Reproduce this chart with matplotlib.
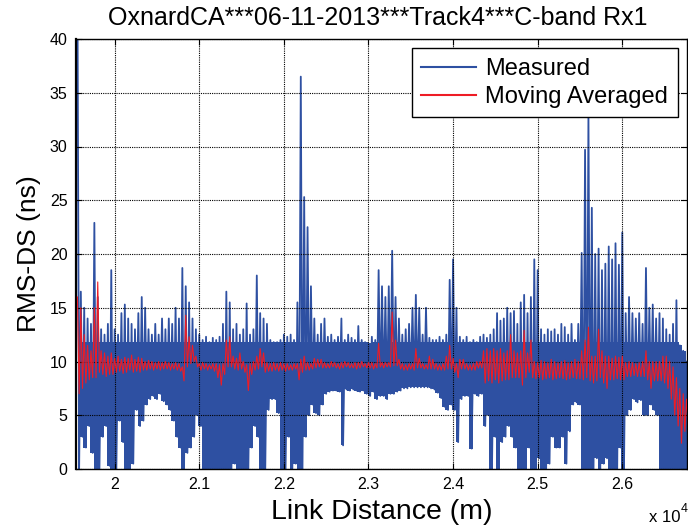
import numpy as np
import matplotlib
matplotlib.use("Agg")
import matplotlib.pyplot as plt

plt.rcParams['font.family'] = ['Liberation Sans', 'DejaVu Sans']

# ---- data; one value pair per 40 m bin ----
bin_start_m = 19560
bin_step_m = 40
dense_band_top = 11.8   # upper edge of the solid part of the measured trace

measured_hi = [45, 16.5, 15, 14, 13.5, 22.9, 16, 13, 12.5, 13.5,
               18.5, 13, 12.5, 14.5, 15.3, 14, 13.5, 13, 14.5, 16,
               15, 13, 12.5, 13.5, 12.5, 14, 13, 14, 13.5, 15,
               14, 18.7, 17, 15.5, 14, 13, 12.5, 12, 12.3, 11.8,
               12.2, 12, 12.3, 13.5, 16.5, 15.5, 13, 13.5, 12.5, 13,
               15.4, 12.5, 13, 18, 14.5, 14, 13.5, 12, 11.8, 11.8,
               12, 12.5, 12.3, 12.5, 12, 15.5, 36.5, 25.3, 22.5, 17,
               14, 12.5, 13.5, 14, 12.3, 12.5, 12, 12.3, 14, 12,
               12.5, 12.2, 12, 13.3, 12, 11.8, 11.7, 12.3, 12, 18.5,
               17, 16, 17, 20.3, 16, 14, 12.5, 13, 13.5, 15,
               16.2, 15, 12.5, 15, 12.2, 12, 12, 12.3, 12, 12.5,
               17.6, 19.5, 15, 12.3, 12, 12.3, 11.8, 12, 11.8, 12.3,
               12.5, 12.2, 12.5, 13, 14.5, 13.8, 14, 15, 14.5, 14.7,
               13.5, 15.5, 16.2, 14.5, 16, 19.5, 18.5, 13, 12.5, 13,
               12.8, 13, 12.5, 13.5, 13.2, 12.5, 13.5, 12, 13.5, 20.1,
               29.7, 33, 24.3, 20, 20.5, 18.5, 19.1, 20.7, 19.5, 21,
               19, 22, 14.5, 16, 14.5, 14, 14.5, 13.5, 18.7, 15,
               15.3, 14, 14.5, 14, 13, 12.5, 13.5, 15.7, 11.5, 11,
               10]
measured_lo = [0, 3, 2, 4, 1.5, 0, 0, 3, 4, 0.3,
               0, 0, 4.5, 2.5, 0, 0, 0.5, 5.5, 4, 4.5,
               6, 6.5, 6.8, 6.5, 7, 6.3, 6, 5.5, 4.5, 3,
               2, 0, 1.5, 2, 3, 5, 4, 0, 0, 0,
               0, 0, 0, 0, 0, 0, 0.5, 0, 0, 0,
               0, 2, 4, 3, 0, 0, 5.5, 6.5, 6.5, 5.2,
               0, 0, 3, 0, 0.5, 0, 0, 3, 5, 6,
               5.2, 5, 6, 7, 7.2, 7.3, 7.3, 7.2, 2.2, 7.4,
               7.3, 7.4, 7.3, 7.2, 7.3, 7.0, 6.8, 7.2, 6.5, 6.8,
               6.8, 6.5, 7, 7, 7.2, 7.3, 7.5, 7.5, 7.6, 7.6,
               7.6, 7.6, 7.6, 7.6, 7.5, 7.4, 7.1, 6.6, 5.8, 5.5,
               6, 5.5, 2.5, 6.5, 6.8, 6.8, 1.9, 7, 6.8, 7,
               4, 5, 0, 3, 0, 2.5, 3, 4, 3, 2,
               0, 0, 0, 2, 0, 0, 1, 0, 0, 0.5,
               3, 2, 2, 3, 0.5, 3.5, 6, 6.2, 6, 0,
               0, 0, 0, 1, 0, 0.5, 1, 0, 0, 0,
               2, 0, 5, 5.5, 6.5, 6.2, 6.4, 5, 5, 6,
               5.5, 5, 0, 0, 0, 0, 0, 0, 0, 0,
               0]

avg_hi = [16, 15, 12.5, 11.5, 11, 15, 17.4, 11, 10.8, 10.5,
          10.8, 10.3, 10.5, 10.2, 10.4, 10.3, 10.6, 10.2, 10.4, 10.3,
          10.0, 10.1, 10.0, 9.9, 10.0, 9.9, 10.0, 9.9, 9.8, 9.9,
          9.8, 9.5, 14.3, 12.3, 11.5, 10.5, 9.8, 9.9, 9.8, 9.7,
          9.8, 9.8, 9.7, 9.8, 12, 12.3, 10.5, 10.3, 10.8, 10,
          9.7, 9.8, 10, 10.5, 11.2, 10.8, 9.9, 9.8, 9.9, 9.8,
          9.9, 9.8, 9.8, 9.7, 9.8, 9.8, 10.2, 10.5, 9.9, 9.8,
          10.3, 10.2, 10.2, 9.9, 9.8, 10.0, 9.9, 9.8, 9.9, 10.0,
          9.9, 9.8, 9.9, 9.9, 10.0, 9.8, 9.9, 9.9, 9.8, 11.7,
          9.9, 9.9, 9.9, 14.6, 12, 10.2, 9.8, 9.7, 9.8, 9.8,
          11.2, 10.3, 9.8, 9.7, 10.5, 10.2, 9.8, 9.7, 9.8, 10.5,
          11.5, 10.3, 9.8, 10.2, 10.2, 9.8, 9.7, 9.8, 10, 10,
          11, 11.2, 11, 11.2, 11, 11.2, 10.8, 11, 12.5, 11,
          10.8, 11, 12.9, 10.8, 12, 10, 9.9, 10.1, 10, 9.9,
          10.2, 10, 9.9, 10, 10.1, 9.9, 10, 10.2, 10, 11,
          12, 13.2, 10.5, 10.5, 13, 11, 10.5, 10.5, 10.3, 10.5,
          10.4, 10.5, 9.9, 10, 9.9, 9.8, 9.9, 10, 11, 10,
          10, 10, 10, 10.5, 10.5, 10, 9.5, 8.5, 7.5, 7,
          6.5]
avg_lo = [7, 7.5, 8, 8.3, 8.5, 8.5, 9, 8.8, 8.6, 8.8,
          8.8, 9.0, 9.1, 8.9, 9.0, 9.2, 9.0, 9.1, 9.0, 9.2,
          9.2, 9.3, 9.2, 9.3, 9.2, 9.3, 9.3, 9.2, 9.3, 9.2,
          9.1, 8.2, 9.5, 9.8, 10, 9.5, 9.2, 9.3, 9.2, 9.3,
          9.1, 8.5, 7.8, 8.8, 9.5, 9.5, 9.3, 9.2, 9.3, 9.0,
          7.3, 8.8, 9.2, 9.3, 9.5, 9.0, 9.1, 9.1, 9.2, 9.1,
          9.2, 9.1, 9.2, 9.2, 9.3, 8.3, 9.0, 9.2, 9.2, 9.3,
          9.4, 9.5, 9.4, 9.4, 9.4, 9.5, 9.4, 9.3, 9.4, 9.5,
          9.4, 9.4, 9.3, 9.4, 9.5, 9.4, 9.4, 9.3, 9.4, 9.5,
          9.4, 9.5, 9.5, 9.6, 9.6, 9.3, 9.2, 9.2, 9.3, 9.2,
          9.4, 9.4, 9.3, 9.3, 9.3, 9.3, 9.2, 9.2, 9.2, 9.3,
          9.3, 9.0, 8.5, 9.3, 9.3, 9.2, 9.2, 9.2, 9.4, 9.4,
          8, 8.2, 8, 8.3, 8, 8.2, 8.3, 8.3, 8.5, 8.5,
          8.5, 7.8, 8.5, 9, 8.5, 8.4, 8.5, 8.3, 8.4, 8.5,
          8.3, 8.4, 8.5, 8.4, 8.3, 8.4, 8.5, 8.4, 8.4, 8.3,
          8.5, 8.2, 8, 8.2, 8.5, 8, 7.5, 8.3, 8.3, 8.4,
          8.3, 8.3, 8.6, 8.6, 8.7, 8.6, 8.6, 8.6, 8.3, 7.5,
          8.2, 8.2, 8.2, 8, 7.5, 6.5, 5, 4, 2.4, 3.5,
          4]

title_text = "OxnardCA***06-11-2013***Track4***C-band Rx1"
x_label = "Link Distance (m)"
y_label = "RMS-DS (ns)"
legend_labels = ["Measured", "Moving Averaged"]
x_ticks = [20000, 21000, 22000, 23000, 24000, 25000, 26000]
x_tick_labels = ["2", "2.1", "2.2", "2.3", "2.4", "2.5", "2.6"]
y_ticks = [0, 5, 10, 15, 20, 25, 30, 35, 40]

# ---- build zig-zag series (peak then trough inside each bin) ----
n = len(measured_hi)
bin_x = bin_start_m + bin_step_m * np.arange(n)
xs = np.column_stack([bin_x, bin_x + bin_step_m / 2]).ravel()
meas = np.column_stack([measured_hi, measured_lo]).ravel()
avg = np.column_stack([avg_hi, avg_lo]).ravel()
core_top = np.minimum(measured_hi, dense_band_top)

W, H = 688, 531
fig = plt.figure(figsize=(W / 100, H / 100), dpi=100)
ax = fig.add_axes([76 / W, (H - 469) / H, (687 - 76) / W, (469 - 39) / H])

blue = '#2E50A2'
red = '#EE1C25'
# solid (dense) part of the measured trace; spikes above it stay thin lines
ax.fill_between(bin_x + bin_step_m / 4, measured_lo, core_top, step='mid',
                color=blue, lw=0, zorder=2)
ax.plot(xs, meas, color=blue, lw=1.3, label=legend_labels[0], zorder=2)
ax.plot(xs, avg, color=red, lw=0.8, label=legend_labels[1], zorder=3)

ax.set_xlim(19543, 26765)
ax.set_ylim(0, 40)
ax.set_xticks(x_ticks)
ax.set_xticklabels(x_tick_labels)
ax.set_yticks(y_ticks)
ax.tick_params(direction='in', top=True, right=True, labelsize=11.5,
               length=4, width=0.8, pad=6)
ax.grid(True, color='black', linestyle=(0, (1, 1)), linewidth=0.8)
ax.set_axisbelow(False)
for s in ax.spines.values():
    s.set_linewidth(1.0)
ax.spines['left'].set_linewidth(1.6)

fig.text(378 / W, 1 - 25 / H, title_text, fontsize=18, ha='center',
         va='baseline')
ax.set_xlabel(x_label, fontsize=20.5, labelpad=5)
ax.set_ylabel(y_label, fontsize=19, labelpad=6)

leg = ax.legend(loc='upper right', fontsize=17, frameon=True, fancybox=False,
                edgecolor='black', framealpha=1, borderpad=0.4,
                handlelength=2.3, handletextpad=0.4, labelspacing=0.25,
                borderaxespad=0.4)
leg.get_frame().set_linewidth(1.0)
for h in leg.get_lines():
    h.set_linewidth(1.5)

fig.text(649 / W, 1 - 522 / H, "x 10", fontsize=12, ha='left', va='baseline')
fig.text(681 / W, 1 - 512 / H, "4", fontsize=9, ha='left', va='baseline')

fig.savefig("out.png", dpi=100)
